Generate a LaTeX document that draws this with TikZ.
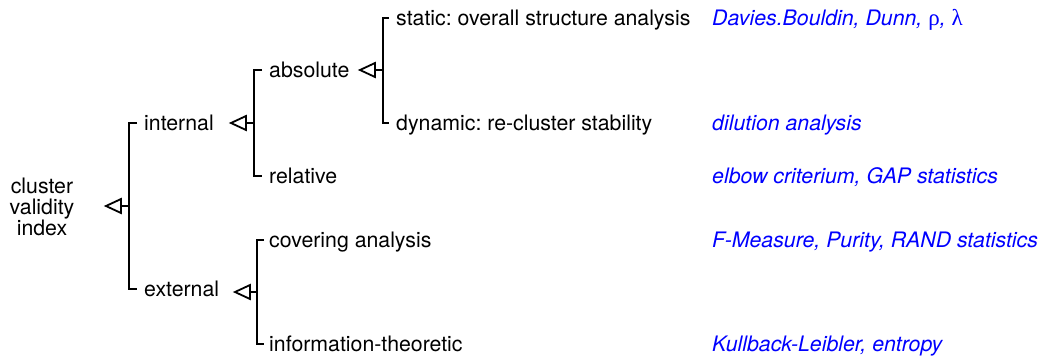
\documentclass[tikz,border=0pt]{standalone}
\usepackage{fontspec}
\setmainfont{TeX Gyre Heros}
\newfontfamily\grkfont{Liberation Serif}
\frenchspacing
\begin{document}
\begin{tikzpicture}[x=1pt,y=-1pt,
  every node/.style={font=\fontsize{21.3}{21}\selectfont, inner sep=0pt},
  leaf/.style={anchor=west, text height=16pt, text depth=2pt},
  refnote/.style={leaf, text=blue, font=\fontsize{21.3}{21}\selectfont\itshape},
  bracket/.style={line width=1.9pt},
  stem/.style={line width=1.8pt},
  tri/.style={line width=1.8pt, line join=miter, fill=white}
]
\useasboundingbox (0,0) rectangle (1043,360);

% category labels
\node[align=center] (root) at (42,207) {cluster\\validity\\index};
\node[leaf] (internal) at (144,123) {internal};
\node[leaf] (external) at (144,289) {external};
\node[leaf] (absolute) at (269,70) {absolute};
\node[leaf] (relative) at (269,176) {relative};
\node[leaf] (static) at (396,18) {static: overall structure analysis};
\node[leaf] (dynamic) at (396,123) {dynamic: re-cluster stability};
\node[leaf] (covering) at (269,240) {covering analysis};
\node[leaf] (info) at (269,344) {information-theoretic};

% example measures
\node[refnote] (m1) at (712,18) {Davies.Bouldin, Dunn, {\upshape\grkfont\fontsize{23}{21}\selectfont ρ}, {\upshape\grkfont\fontsize{23}{21}\selectfont λ}};
\node[refnote] (m2) at (712,123) {dilution analysis};
\node[refnote] (m3) at (712,176) {elbow criterium, GAP statistics};
\node[refnote] (m4) at (712,240) {F-Measure, Purity, RAND statistics};
\node[refnote] (m5) at (712,344) {Kullback-Leibler, entropy};

% bracket junctions and pointer tips
\coordinate (rootbar) at (129,206);
\coordinate (roottip) at (106,206);
\coordinate (intbar) at (254,123);
\coordinate (inttip) at (231,123);
\coordinate (absbar) at (383,70);
\coordinate (abstip) at (360,70);
\coordinate (extbar) at (257,292);
\coordinate (exttip) at (235,292);

% brackets
\draw[bracket] ([xshift=-7pt]internal.west) -| (rootbar) |- ([xshift=-7pt]external.west);
\draw[bracket] ([xshift=-7pt]absolute.west) -| (intbar) |- ([xshift=-7pt]relative.west);
\draw[bracket] ([xshift=-7pt]static.west) -| (absbar) |- ([xshift=-7pt]dynamic.west);
\draw[bracket] ([xshift=-5pt]covering.west) -| (extbar) |- ([xshift=-5pt]info.west);

% pointers: stem plus open triangle
\foreach \b/\t in {rootbar/roottip, intbar/inttip, absbar/abstip, extbar/exttip}{
  \draw[stem] (\b) -- ([xshift=15pt]\t);
  \draw[tri] (\t) -- ([xshift=15pt,yshift=7pt]\t) -- ([xshift=15pt,yshift=-7pt]\t) -- cycle;
}
\end{tikzpicture}
\end{document}
